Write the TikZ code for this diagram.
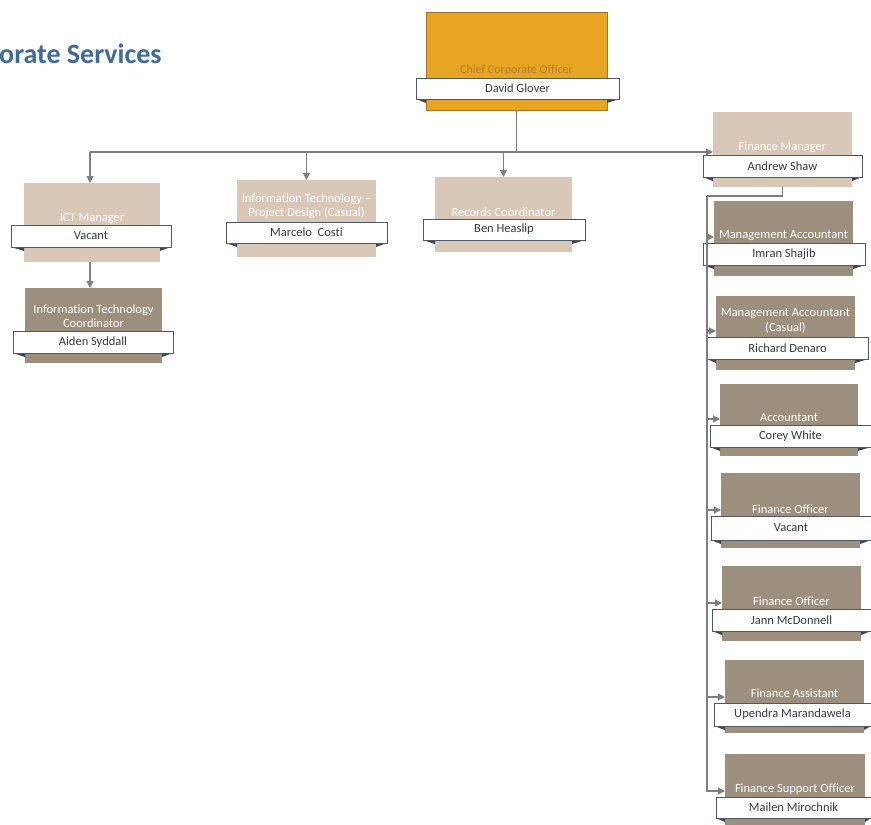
\documentclass[tikz,border=0pt]{standalone}
\usepackage{fontspec}
\setmainfont[Ligatures=NoCommon]{Carlito}
\usetikzlibrary{arrows.meta,calc}

\definecolor{chieffill}{HTML}{E8A522}
\definecolor{chiefedge}{HTML}{A8761E}
\definecolor{chieftext}{HTML}{B67A2C}
\definecolor{lighttan}{HTML}{D9C7B8}
\definecolor{darktaupe}{HTML}{9D8F7E}
\definecolor{nametext}{HTML}{343B47}
\definecolor{baredge}{HTML}{4D5868}
\definecolor{foldcol}{HTML}{34475C}
\definecolor{linkcol}{HTML}{7E7E7E}
\definecolor{headblue}{HTML}{3E6A9C}

\tikzset{
  boxbase/.style={inner sep=0pt, outer sep=0pt},
  chiefbox/.style={boxbase, fill=chieffill, draw=chiefedge, line width=0.8pt},
  lightbox/.style={boxbase, fill=lighttan},
  darkbox/.style={boxbase, fill=darktaupe},
  chiefboxtitle/.style={text=chieftext, font=\fontsize{12}{14}\selectfont, align=center, inner sep=0pt},
  lightboxtitle/.style={text=white, font=\fontsize{12.5}{14.5}\selectfont, align=center, inner sep=0pt},
  darkboxtitle/.style={text=white, font=\fontsize{12.5}{14.5}\selectfont, align=center, inner sep=0pt},
  namebar/.style={boxbase, fill=white, draw=baredge, line width=0.6pt, text=nametext,
    font=\fontsize{12.5}{14}\selectfont},
  fold/.style={fill=foldcol},
  conn/.style={draw=linkcol, line width=1.1pt},
  arr/.style={conn, -{Triangle[length=7pt,width=7pt]}, linkcol},
}

% role box: name, left, top, right, bottom, style, title centre y, title
\newcommand\rolebox[8]{%
  \pgfmathsetmacro\bw{#4-#2}\pgfmathsetmacro\bh{#5-#3}%
  \node[#6, minimum width=\bw pt, minimum height=\bh pt, anchor=north west] (#1) at (#2,#3) {};
  \node[#6title] (#1t) at ({(#2+#4)/2},#7) {#8};
}
% name bar over a role box: box name, left, top, right, bottom, person
\newcommand\namebar[6]{%
  \pgfmathsetmacro\bw{#4-#2}\pgfmathsetmacro\bh{#5-#3}%
  \fill[fold] (#2,#5) -- (#1.west |- 0,#5) -- ($(#1.west |- 0,#5)+(0,4)$) -- cycle;
  \fill[fold] (#4,#5) -- (#1.east |- 0,#5) -- ($(#1.east |- 0,#5)+(0,4)$) -- cycle;
  \node[namebar, minimum width=\bw pt, minimum height=\bh pt, anchor=north west] (#1n) at (#2,#3) {#6};
}

\begin{document}
\begin{tikzpicture}[x=1pt,y=-1pt]
\useasboundingbox[fill=white] (0,0) rectangle (871,825);

% heading
\node[anchor=base west, inner sep=0pt, text=headblue, font=\fontsize{28}{32}\selectfont\bfseries]
  (heading) at (-1,63) {orate Services};

% chief
\rolebox{chief}{426}{12}{607}{110}{chiefbox}{70}{Chief Corporate Officer}
\namebar{chief}{416}{78}{619}{99}{David Glover}

% first level
\rolebox{ict}{24}{183}{160}{262}{lightbox}{219}{ICT Manager}
\namebar{ict}{11}{225}{171}{247}{Vacant}
\rolebox{itc}{25}{288}{162}{363}{darkbox}{316}{Information Technology\\Coordinator}
\namebar{itc}{13}{331}{173}{353}{Aiden Syddall}
\rolebox{itp}{237}{180}{376}{257}{lightbox}{206}{Information Technology –\\Project Design (Casual)}
\namebar{itp}{226}{222}{387}{243}{Marcelo\ \ Costi}
\rolebox{rec}{435}{177}{572}{252}{lightbox}{212}{Records Coordinator}
\namebar{rec}{423}{219}{585}{240}{Ben Heaslip}
\rolebox{fin}{713}{112}{852}{187}{lightbox}{147}{Finance Manager}
\namebar{fin}{703}{155}{862}{177}{Andrew Shaw}

% finance team
\rolebox{ca}{714}{201}{853}{276}{darkbox}{236}{Management Accountant}
\namebar{ca}{703}{243}{865}{265}{Imran Shajib}
\rolebox{cb}{716}{296}{855}{370}{darkbox}{321}{Management Accountant\\(Casual)}
\namebar{cb}{707}{337}{868}{359}{Richard Denaro}
\rolebox{cc}{720}{384}{858}{456}{darkbox}{418}{Accountant}
\namebar{cc}{710}{425}{871}{447}{Corey White}
\rolebox{cd}{721}{473}{860}{548}{darkbox}{509}{Finance Officer}
\namebar{cd}{711}{516}{871}{540}{Vacant}
\rolebox{ce}{722}{566}{861}{641}{darkbox}{601}{Finance Officer}
\namebar{ce}{712}{609}{871}{631}{Jann McDonnell}
\rolebox{cf}{725}{660}{864}{733}{darkbox}{693}{Finance Assistant}
\namebar{cf}{714}{703}{871}{726}{Upendra Marandawela}
\rolebox{cg}{725}{754}{865}{825}{darkbox}{789}{Finance Support Officer}
\namebar{cg}{716}{797}{871}{818}{Mailen Mirochnik}

% connectors from the chief
\coordinate (split) at (chief.south |- 0,152);
\coordinate (splitl) at (90,152);
\draw[conn] (chief.south) -- (split);
\draw[arr] (splitl) -- (fin.west |- splitl);
\draw[arr] (splitl) -- (splitl |- ict.north);
\draw[arr] (itp.north |- splitl) -- (itp.north);
\draw[arr] (rec.north |- splitl) -- (rec.north);
\draw[arr] (ict.south -| splitl) -- (splitl |- itc.north);

% finance rail
\coordinate (rail) at (707,196);
\coordinate (lastin) at ($(cg.west |- cgn.north)+(0,-6)$);
\draw[conn] (fin.south) |- (rail);
\draw[arr] (rail) |- (lastin);
\foreach \k in {ca,cb,cc,cd,ce,cf}{
  \draw[arr] ($(rail |- \k n.north)+(0,-6)$) -- ($(\k.west |- \k n.north)+(0,-6)$);
}
\end{tikzpicture}
\end{document}
